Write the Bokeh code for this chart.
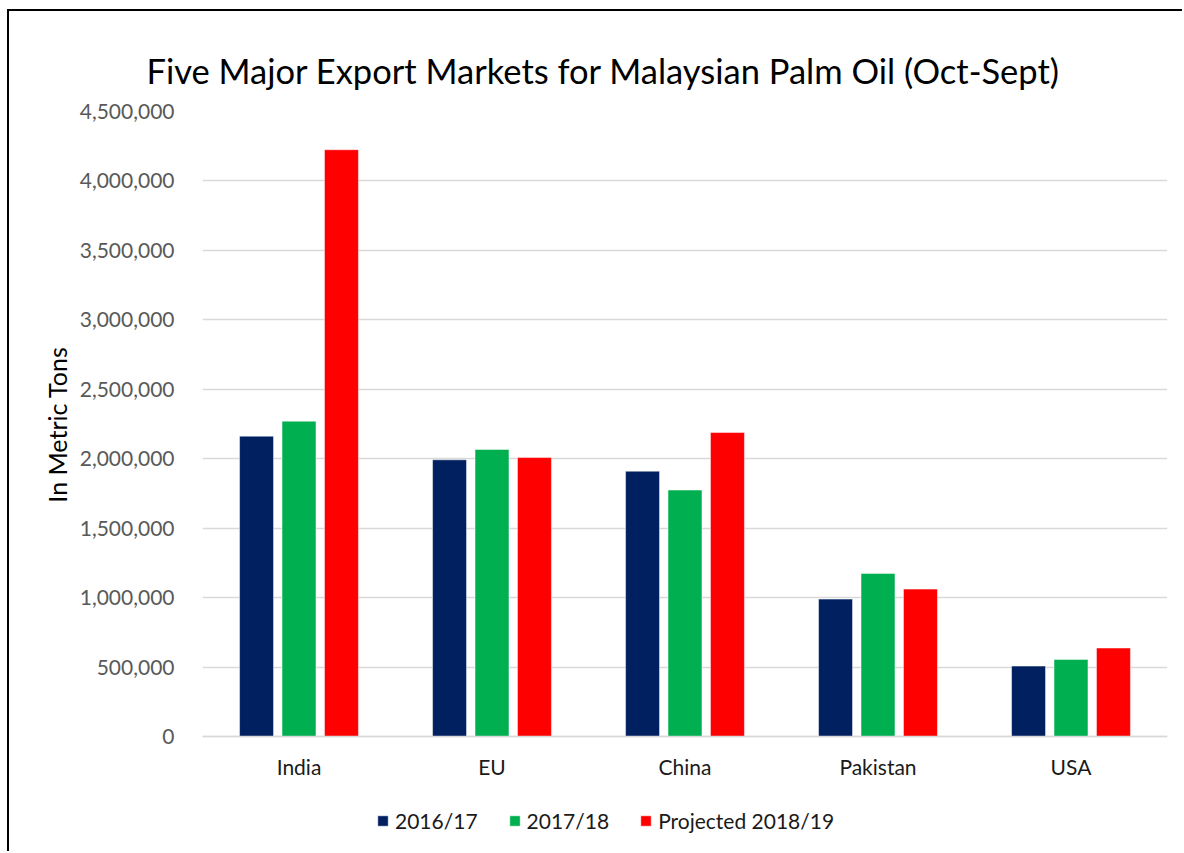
from bokeh.plotting import figure
from bokeh.models import (ColumnDataSource, FactorRange, Legend, LegendItem, Title,
                          NumeralTickFormatter, FixedTicker, Range1d)
from bokeh.transform import dodge
from bokeh.embed import file_html
from bokeh.resources import INLINE

categories = ["India", "EU", "China", "Pakistan", "USA"]
series_names = ["2016/17", "2017/18", "Projected 2018/19"]
v_2016_17 = [2163000, 1993000, 1911000, 990000, 508000]
v_2017_18 = [2271000, 2067000, 1775000, 1175000, 556000]
v_2018_19 = [4225000, 2009000, 2189000, 1062000, 638000]
y_ticks = [0, 500000, 1000000, 1500000, 2000000, 2500000, 3000000, 3500000, 4000000, 4500000]
colors = ["#002060", "#00B050", "#FF0000"]
title_text = "Five Major Export Markets for Malaysian Palm Oil (Oct-Sept)"

FONT = "Lato"

src = ColumnDataSource(dict(cat=categories, a=v_2016_17, b=v_2017_18, c=v_2018_19))

# layout (pixels, within the figure)
W, H = 1175, 842
TOP_PX = 99            # y=4.5M position
ZERO_PX = 725          # y=0 position
YMAX = y_ticks[-1]
per_px = YMAX / (ZERO_PX - TOP_PX)
y_lo = -(H - ZERO_PX) * per_px       # frame reaches the bottom of the figure

p = figure(x_range=FactorRange(factors=categories, range_padding=0),
           y_range=Range1d(y_lo, YMAX), width=W, height=H,
           output_backend="svg", toolbar_location=None,
           min_border_left=193, min_border_right=17, min_border_top=0, min_border_bottom=0)
p.styles = {"margin-left": "7px", "margin-top": "9px",
            "border-left": "2px solid black", "border-top": "2px solid black"}

# spacer title next to the frame, main title further out
p.title.text = " "
p.title.text_font_size = "6px"
p.title.standoff = 8

main_title = Title(text=title_text, text_font=FONT, text_font_size="34.5px",
                   text_font_style="normal", text_color="#000000",
                   align="left", offset=-56, standoff=41)
p.add_layout(main_title, "above")

ylabel = Title(text="In Metric Tons", text_font=FONT, text_font_size="25px",
               text_font_style="normal", text_color="#000000",
               align="right", offset=235, standoff=9)
p.add_layout(ylabel, "left")

renderers = []
for col, off, color in zip(["a", "b", "c"], [-0.22, 0.0, 0.22], colors):
    r = p.vbar(x=dodge("cat", off, range=p.x_range), top=col, width=0.176, source=src,
               fill_color=color, line_color="white", line_width=0.8, line_alpha=0.6)
    renderers.append(r)

p.outline_line_color = None
p.xgrid.grid_line_color = None
p.ygrid.grid_line_color = "#d9d9d9"
p.ygrid.grid_line_width = 1.6
p.yaxis.ticker = FixedTicker(ticks=y_ticks)
p.yaxis.formatter = NumeralTickFormatter(format="0,0")
p.yaxis.axis_line_color = None
p.yaxis.major_tick_line_color = None
p.yaxis.minor_tick_line_color = None
p.yaxis.major_label_text_font = FONT
p.yaxis.major_label_text_font_size = "21px"
p.yaxis.major_label_text_color = "#595959"
p.yaxis.major_label_standoff = 22

p.xaxis.fixed_location = 0
p.xaxis.axis_line_color = "#d9d9d9"
p.xaxis.axis_line_width = 1.6
p.xaxis.major_tick_line_color = None
p.xaxis.minor_tick_line_color = None
p.xaxis.major_label_text_font = FONT
p.xaxis.major_label_text_font_size = "21px"
p.xaxis.major_label_text_color = "#1a1a1a"
p.xaxis.major_label_standoff = 11

legend = Legend(items=[LegendItem(label=n, renderers=[r]) for n, r in zip(series_names, renderers)],
                orientation="horizontal", location=(174, 20),
                label_text_font=FONT, label_text_font_size="21px", label_text_color="#1a1a1a",
                glyph_width=13, glyph_height=13, label_standoff=6, spacing=30,
                padding=0, margin=0, border_line_color=None, background_fill_alpha=0)
p.add_layout(legend, "center")

open("out.html", "w").write(file_html(p, INLINE))
